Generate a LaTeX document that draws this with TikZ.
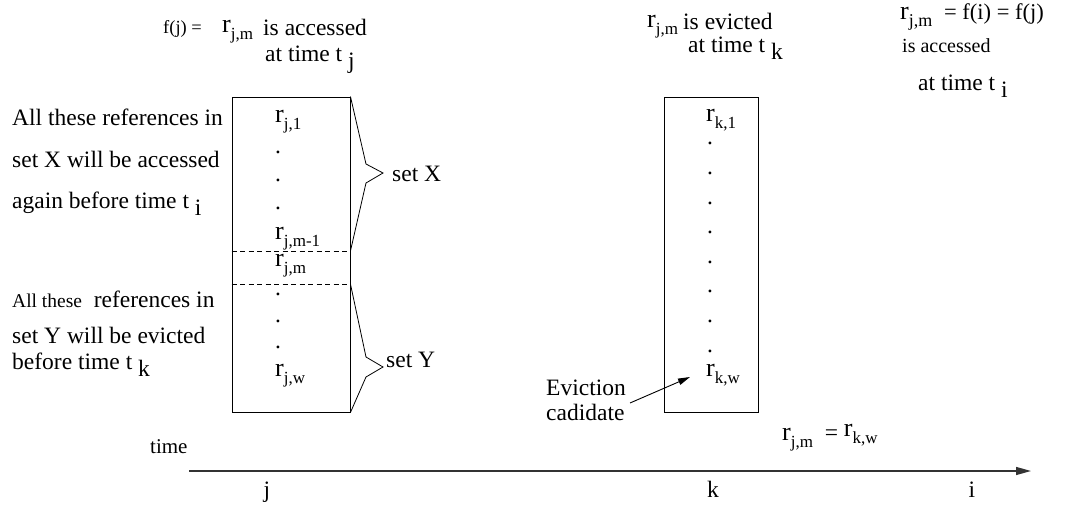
\documentclass[tikz,border=0pt]{standalone}
\usepackage{fontspec}
\setmainfont{Liberation Serif}
\usetikzlibrary{arrows.meta}
\newcommand{\rsub}[2][17bp]{{\fontsize{26bp}{28bp}\selectfont r}\raisebox{-7bp}{\fontsize{#1}{#1}\selectfont #2}}
\newcommand{\lowsub}[1]{\ \raisebox{-7bp}{#1}}
\tikzset{
  txt/.style={inner sep=0pt, anchor=base west, font=\fontsize{23.5bp}{28bp}\selectfont},
  smalltxt/.style={inner sep=0pt, anchor=base west, font=\fontsize{18.5bp}{22bp}\selectfont},
  dotn/.style={inner sep=0pt, anchor=base, font=\fontsize{23.5bp}{28bp}\selectfont},
  box/.style={draw, line width=0.9bp, rectangle, inner sep=0pt},
  sep/.style={line width=0.9bp, dash pattern=on 5bp off 3.5bp},
  brace/.style={line width=0.8bp},
  axis/.style={line width=1.3bp, draw=black!80, -{Triangle[length=15bp,width=8bp]}},
  ptr/.style={line width=0.9bp, -{Triangle[length=12bp,width=6.5bp]}}
}
\begin{document}
\begin{tikzpicture}[x=1bp,y=-1bp]
\useasboundingbox (0,0) rectangle (1073,507);
% boxes
\node[box, minimum width=118bp, minimum height=315bp] (boxj) at (291,254.5) {};
\node[box, minimum width=94bp, minimum height=315bp] (boxk) at (711,254.5) {};
\draw[sep] (boxj.west |- 0,251) -- (boxj.east |- 0,251);
\draw[sep] (boxj.west |- 0,284) -- (boxj.east |- 0,284);
% braces
\draw[brace] (boxj.north east) -- (366,164) -- (383,173) -- (366,183) -- (boxj.east |- 0,251);
\draw[brace] (boxj.east |- 0,284) -- (366,357) -- (383,367) -- (366,377) -- (boxj.south east);
\node[txt] (setx) at (392,182) {set X};
\node[txt] (sety) at (386,368) {set Y};
% left box contents
\node[txt] (rj1) at (275,123) {\rsub{j,1}};
\node[dotn] (dj1) at (278,154) {.};
\node[dotn] (dj2) at (278,182) {.};
\node[dotn] (dj3) at (278,210) {.};
\node[txt] (rjm1) at (275,240) {\rsub{j,m-1}};
\node[txt] (rjm) at (275,267) {\rsub{j,m}};
\node[dotn] (dj4) at (278,296) {.};
\node[dotn] (dj5) at (278,323) {.};
\node[dotn] (dj6) at (278,349) {.};
\node[txt] (rjw) at (275,377) {\rsub{j,w}};
% right box contents
\node[txt] (rk1) at (706,122) {\rsub{k,1}};
\foreach \i in {0,...,7} {
  \node[dotn] (dk\i) at (710,{145+29.6*\i}) {.};
}
\node[txt] (rkw) at (706,377) {\rsub{k,w}};
% left texts
\node[txt] (ax1) at (12,126) {All these references in};
\node[txt] (ax2) at (12,168) {set X will be accessed};
\node[txt] (ax3) at (12,209) {again before time t\lowsub{i}};
\node[txt] (ay1) at (12,308) {{\fontsize{19.5bp}{22bp}\selectfont All these}\ \ references in};
\node[txt] (ay2) at (12,344) {set Y will be evicted};
\node[txt] (ay3) at (12,370) {before time t\lowsub{k}};
% top texts
\node[smalltxt] (fj) at (163,34) {f(j) =};
\node[txt] (top1r) at (222,33) {\rsub{j,m}};
\node[txt] (top1a) at (263,36) {is accessed};
\node[txt] (top1b) at (265,62) {at time t\lowsub{j}};
\node[txt] (top2r) at (647,28) {\rsub{j,m}};
\node[txt] (top2a) at (683,30) {is evicted};
\node[txt] (top2b) at (688,53) {at time t\lowsub{k}};
\node[txt] (top3r) at (900,20) {\rsub[18bp]{j,m}\ \ {\fontsize{22.5bp}{24bp}\selectfont = f(i) = f(j)}};
\node[smalltxt, font=\fontsize{20bp}{24bp}\selectfont] (top3a) at (902,53) {is accessed};
\node[txt] (top3b) at (918,91) {at time t\lowsub{i}};
% eviction
\node[txt] (ev1) at (546,395) {Eviction};
\node[txt] (ev2) at (546,420) {cadidate};
\coordinate (ptrs) at (630,403);
\coordinate (ptre) at (690,377);
\draw[ptr] (ptrs) -- (ptre);
\node[txt] (eq) at (782,440) {\rsub{j,m}\ \ =\ \raisebox{4bp}{\rsub{k,w}}};
% time axis
\node[txt, font=\fontsize{21bp}{24bp}\selectfont] (time) at (150,453) {time};
\coordinate (axs) at (189,471);
\coordinate (axe) at (1031,471);
\draw[axis] (axs) -- (axe);
\node[dotn] (tj) at (267,497) {j};
\node[dotn] (tk) at (713,497) {k};
\node[dotn] (ti) at (972,497) {i};
\end{tikzpicture}
\end{document}
